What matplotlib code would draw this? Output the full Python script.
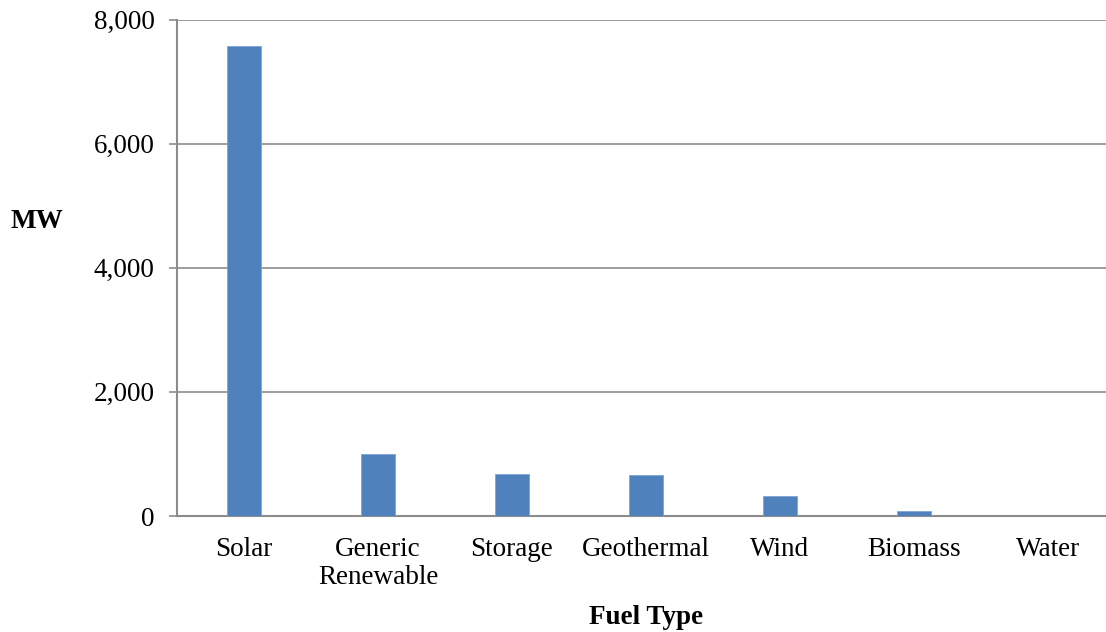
import matplotlib
matplotlib.use("Agg")
import matplotlib.pyplot as plt
from matplotlib.ticker import FuncFormatter

categories = ["Solar", "Generic\nRenewable", "Storage", "Geothermal", "Wind", "Biomass", "Water"]
values = [7570, 1005, 675, 668, 330, 75, 0]

plt.rcParams['font.family'] = ['Liberation Serif', 'DejaVu Serif']

fig = plt.figure(figsize=(11.06, 6.32), dpi=100)
ax = fig.add_axes([177/1106, 116/632, 929/1106, 496.5/632])

x = list(range(len(categories)))
ax.bar(x, values, width=0.25, color="#4F81BD", edgecolor="#7FA3D3", linewidth=0.6, zorder=3)

ax.set_xlim(-0.5, -0.5 + 929/134)
ax.set_ylim(0, 8000)
ax.set_yticks([0, 2000, 4000, 6000, 8000])
ax.yaxis.set_major_formatter(FuncFormatter(lambda v, p: f"{int(v):,}"))
ax.grid(axis='y', color="#8C8C8C", linewidth=1.2, zorder=0)
ax.set_xticks(x)
ax.set_xticklabels(categories, fontsize=19.5, linespacing=1.18)
ax.tick_params(axis='x', length=0, pad=15)
ax.tick_params(axis='y', length=6, width=1.2, color="#8C8C8C", labelsize=19.5, pad=10)

for s in ['top', 'right']:
    ax.spines[s].set_visible(False)
for s in ['left', 'bottom']:
    ax.spines[s].set_color("#8C8C8C")
    ax.spines[s].set_linewidth(1.5)

fig.text(37/1106, 1 - 222/632, "MW", fontsize=19.5, fontweight='bold', ha='center', va='center')
fig.text(646/1106, 1 - 617/632, "Fuel Type", fontsize=19.5, fontweight='bold', ha='center', va='center')

fig.savefig("out.png", dpi=100)
